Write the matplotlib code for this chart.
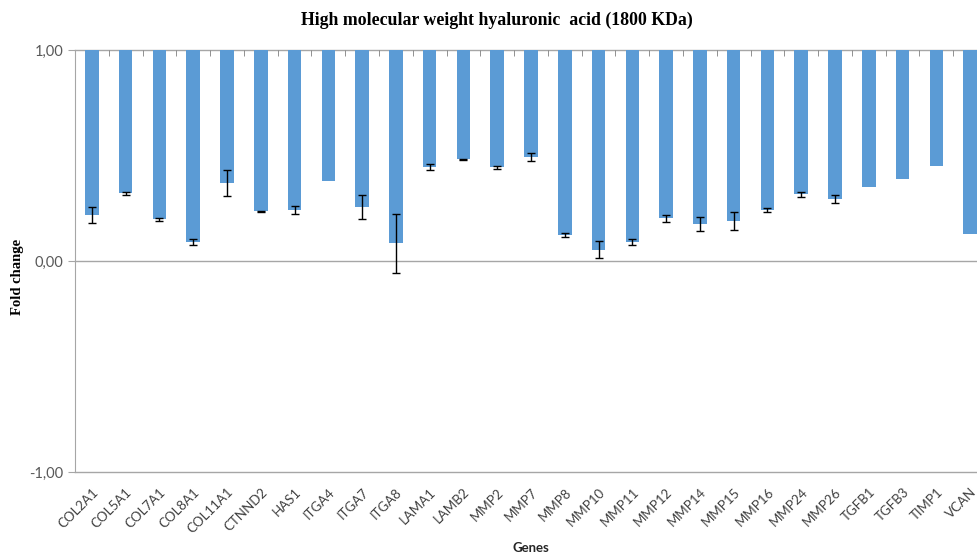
import numpy as np
import matplotlib
matplotlib.use("Agg")
import matplotlib.pyplot as plt

genes = ["COL2A1", "COL5A1", "COL7A1", "COL8A1", "COL11A1", "CTNND2", "HAS1",
         "ITGA4", "ITGA7", "ITGA8", "LAMA1", "LAMB2", "MMP2", "MMP7", "MMP8",
         "MMP10", "MMP11", "MMP12", "MMP14", "MMP15", "MMP16", "MMP24", "MMP26",
         "TGFB1", "TGFB3", "TIMP1", "VCAN"]
fold_change = [0.218, 0.321, 0.198, 0.089, 0.370, 0.235, 0.240,
               0.378, 0.256, 0.084, 0.445, 0.482, 0.444, 0.493, 0.125,
               0.054, 0.090, 0.202, 0.175, 0.191, 0.240, 0.316, 0.294,
               0.352, 0.390, 0.450, 0.126]
errors = [0.036, 0.008, 0.008, 0.014, 0.060, 0.004, 0.019,
          0.0, 0.056, 0.139, 0.014, 0.003, 0.007, 0.021, 0.009,
          0.039, 0.012, 0.017, 0.033, 0.043, 0.009, 0.011, 0.017,
          0.0, 0.0, 0.0, 0.0]
y_ticks = [-1.0, 0.0, 1.0]

W, H = 977, 556
fig = plt.figure(figsize=(W / 100, H / 100), dpi=100)
ax = fig.add_axes([75 / W, (H - 472) / H, 912 / W, 422 / H])

grid_col = "#a6a6a6"
x = np.arange(len(genes))
vals = np.array(fold_change)
err = np.array(errors)
ax.bar(x, vals - 1.0, bottom=1.0, width=0.4, color="#5b9bd5", zorder=2)

# only genes with a measured spread get error bars
has_err = err > 0
ax.errorbar(x[has_err], vals[has_err], yerr=err[has_err], fmt="none",
            ecolor="black", elinewidth=1, capsize=3, capthick=1, zorder=3)

ax.set_xlim(-0.5, len(genes) - 0.5)
ax.set_ylim(-1, 1)
ax.set_yticks(y_ticks)
ax.set_yticklabels([f"{v:.2f}".replace(".", ",") for v in y_ticks])

for v in y_ticks:
    ax.axhline(v, color=grid_col, lw=1, zorder=1, clip_on=False)

for s in ["top", "right", "bottom"]:
    ax.spines[s].set_visible(False)
ax.spines["left"].set_color(grid_col)

ax.set_xticks(x)
ax.set_xticklabels(genes, rotation=45, ha="right", rotation_mode="anchor",
                   fontsize=9.5, family="Lato", color="#404040")
ax.set_xticks(np.arange(len(genes) + 1) - 0.5, minor=True)
ax.tick_params(axis="x", which="major", length=0, pad=10)
ax.tick_params(axis="x", which="minor", bottom=False, top=True, direction="in",
               length=4, color="#808080")
ax.tick_params(axis="y", length=5, color=grid_col, labelsize=10.5,
               labelcolor="#595959")
for lab in ax.get_yticklabels():
    lab.set_family("Lato")

fig.text(497 / W, 1 - 20 / H, "High molecular weight hyaluronic  acid (1800 KDa)",
         ha="center", va="center", family="Liberation Serif", weight="bold",
         fontsize=12.8)
fig.text(18 / W, 1 - 277 / H, "Fold change", rotation=90, ha="center",
         va="center", family="Liberation Serif", weight="bold", fontsize=10.5)
fig.text(531 / W, 1 - 548 / H, "Genes", ha="center", va="center",
         family="Lato", weight="bold", fontsize=9.5, color="#262626")

fig.savefig("out.png", dpi=100)
